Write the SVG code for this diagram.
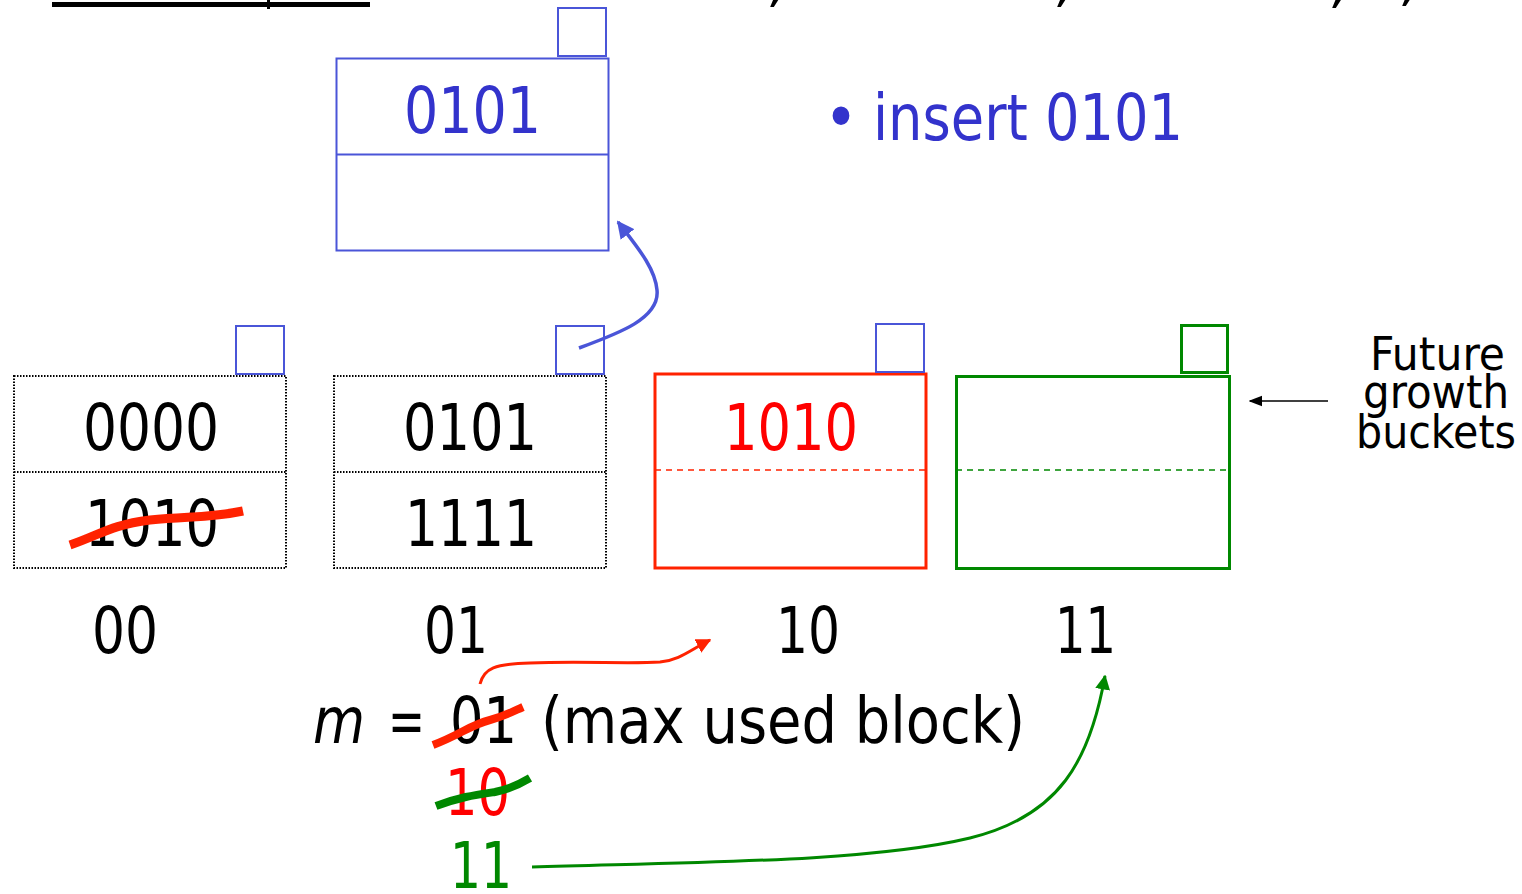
<svg xmlns="http://www.w3.org/2000/svg" width="1522" height="894" viewBox="0 0 1522 894">
<defs>
<style>
text{font-family:"DejaVu Sans Condensed","DejaVu Sans","Liberation Sans",sans-serif;font-size:64px;}
.blk{fill:#000;}
.blu{fill:#3333cc;}
.red{fill:#ff0000;}
.grn{fill:#008800;}
.dot{fill:none;stroke:#000;stroke-width:2;stroke-dasharray:1.5,1.5;}
.sq{fill:none;stroke:#4a55d8;stroke-width:2;}
</style>
<marker id="ab" viewBox="0 0 10 10" refX="9" refY="5" markerWidth="5" markerHeight="5" orient="auto"><path d="M0,0L10,5L0,10z" fill="#4a55d8"/></marker>
<marker id="ar" viewBox="0 0 10 10" refX="9" refY="5" markerWidth="5" markerHeight="5" orient="auto"><path d="M0,0L10,5L0,10z" fill="#ff2200"/></marker>
<marker id="ag" viewBox="0 0 10 10" refX="9" refY="5" markerWidth="5" markerHeight="5" orient="auto"><path d="M0,0L10,5L0,10z" fill="#008800"/></marker>
<marker id="ak" viewBox="0 0 10 10" refX="9" refY="5" markerWidth="9" markerHeight="9" orient="auto"><path d="M0,1L10,5L0,9z" fill="#000"/></marker>
</defs>
<rect width="1522" height="894" fill="#fff"/>
<g id="title-fragment">
<rect x="52" y="2" width="318" height="5" fill="#000"/>
<rect x="267" y="0" width="3" height="9" fill="#000"/>
<text x="770" y="0" font-style="italic" class="blk">,</text>
<text x="1057" y="0" font-style="italic" class="blk">,</text>
<text x="1332" y="1" font-style="italic" class="blk">,</text>
<text x="1402" y="-1" font-style="italic" class="blk">,</text>
</g>
<g id="new-bucket">
<rect x="336.5" y="58.5" width="272" height="192" fill="none" stroke="#4a55d8" stroke-width="2"/>
<line x1="336.5" y1="154.5" x2="608.5" y2="154.5" stroke="#4a55d8" stroke-width="2"/>
<rect x="558" y="8" width="48" height="48" class="sq"/>
<text x="404" y="133" class="blu" textLength="137" lengthAdjust="spacingAndGlyphs">0101</text>
</g>
<g id="note">
<text x="824" y="140" class="blu">•</text>
<text x="873" y="140" class="blu" textLength="310" lengthAdjust="spacingAndGlyphs">insert 0101</text>
</g>
<g id="bucket-00">
<rect x="14" y="376" width="272" height="192" class="dot"/>
<line x1="14" y1="472" x2="286" y2="472" class="dot"/>
<rect x="236" y="326" width="48" height="48" class="sq"/>
<text x="83" y="450" class="blk" textLength="136" lengthAdjust="spacingAndGlyphs">0000</text>
<text x="85" y="546" class="blk" textLength="134" lengthAdjust="spacingAndGlyphs">1010</text>
<path d="M70,545 C100,535 110,525 150,520 C190,516 210,518 243,511" fill="none" stroke="#ff2200" stroke-width="9"/>
<text x="92" y="653" class="blk" textLength="66" lengthAdjust="spacingAndGlyphs">00</text>
</g>
<g id="bucket-01">
<rect x="334" y="376" width="272" height="192" class="dot"/>
<line x1="334" y1="472" x2="606" y2="472" class="dot"/>
<rect x="556" y="326" width="48" height="48" class="sq"/>
<text x="403" y="450" class="blk" textLength="134" lengthAdjust="spacingAndGlyphs">0101</text>
<text x="405" y="546" class="blk" textLength="132" lengthAdjust="spacingAndGlyphs">1111</text>
<text x="424" y="653" class="blk" textLength="64" lengthAdjust="spacingAndGlyphs">01</text>
</g>
<g id="bucket-10">
<rect x="655" y="374" width="271" height="194" fill="none" stroke="#ff2200" stroke-width="3"/>
<line x1="655" y1="470" x2="926" y2="470" stroke="#ff2200" stroke-width="1.5" stroke-dasharray="6,5"/>
<rect x="876" y="324" width="48" height="48" class="sq"/>
<text x="724" y="450" class="red" textLength="134" lengthAdjust="spacingAndGlyphs">1010</text>
<text x="776" y="653" class="blk" textLength="64" lengthAdjust="spacingAndGlyphs">10</text>
</g>
<g id="bucket-11">
<rect x="956.5" y="376.5" width="273" height="192" fill="none" stroke="#008800" stroke-width="3"/>
<line x1="956" y1="470" x2="1229" y2="470" stroke="#008800" stroke-width="1.5" stroke-dasharray="6,5"/>
<rect x="1181.5" y="325.5" width="46" height="47" fill="none" stroke="#008800" stroke-width="3"/>
<text x="1055" y="653" class="blk" textLength="61" lengthAdjust="spacingAndGlyphs">11</text>
</g>
<g id="future-label">
<text x="1370" y="370" class="blk" style="font-size:47px" textLength="135" lengthAdjust="spacingAndGlyphs">Future</text>
<text x="1363" y="408" class="blk" style="font-size:47px" textLength="146" lengthAdjust="spacingAndGlyphs">growth</text>
<text x="1356" y="448" class="blk" style="font-size:47px" textLength="160" lengthAdjust="spacingAndGlyphs">buckets</text>
</g>
<g id="m-label">
<text x="313" y="743" class="blk" font-style="italic" textLength="52" lengthAdjust="spacingAndGlyphs">m</text>
<text x="388" y="743" class="blk" textLength="37" lengthAdjust="spacingAndGlyphs">=</text>
<text x="450" y="743" class="blk" textLength="67" lengthAdjust="spacingAndGlyphs">01</text>
<text x="541" y="743" class="blk" textLength="484" lengthAdjust="spacingAndGlyphs">(max used block)</text>
<path d="M433,745 C460,735 470,725 490,720 C505,716 512,712 523,707" fill="none" stroke="#ff2200" stroke-width="8"/>
<text x="445" y="815" class="red" textLength="65" lengthAdjust="spacingAndGlyphs">10</text>
<path d="M436,806 C460,797 475,795 495,792 C510,789 520,784 530,778" fill="none" stroke="#008800" stroke-width="8"/>
<text x="450" y="888" class="grn" textLength="62" lengthAdjust="spacingAndGlyphs">11</text>
</g>
<g id="connectors">
<path d="M579,348 C620,333 660,318 657,290 C655,268 638,248 618,222" fill="none" stroke="#4a55d8" stroke-width="3.5" marker-end="url(#ab)"/>
<path d="M480,684 C484,668 495,664 530,663 C580,661 630,664 660,662 C680,660 690,650 710,640" fill="none" stroke="#ff2200" stroke-width="3" marker-end="url(#ar)"/>
<path d="M532,867 C700,862 870,862 970,838 C1060,816 1090,760 1105,676" fill="none" stroke="#008800" stroke-width="3" marker-end="url(#ag)"/>
<line x1="1328" y1="401" x2="1250" y2="401" stroke="#000" stroke-width="1.5" marker-end="url(#ak)"/>
</g>
</svg>
